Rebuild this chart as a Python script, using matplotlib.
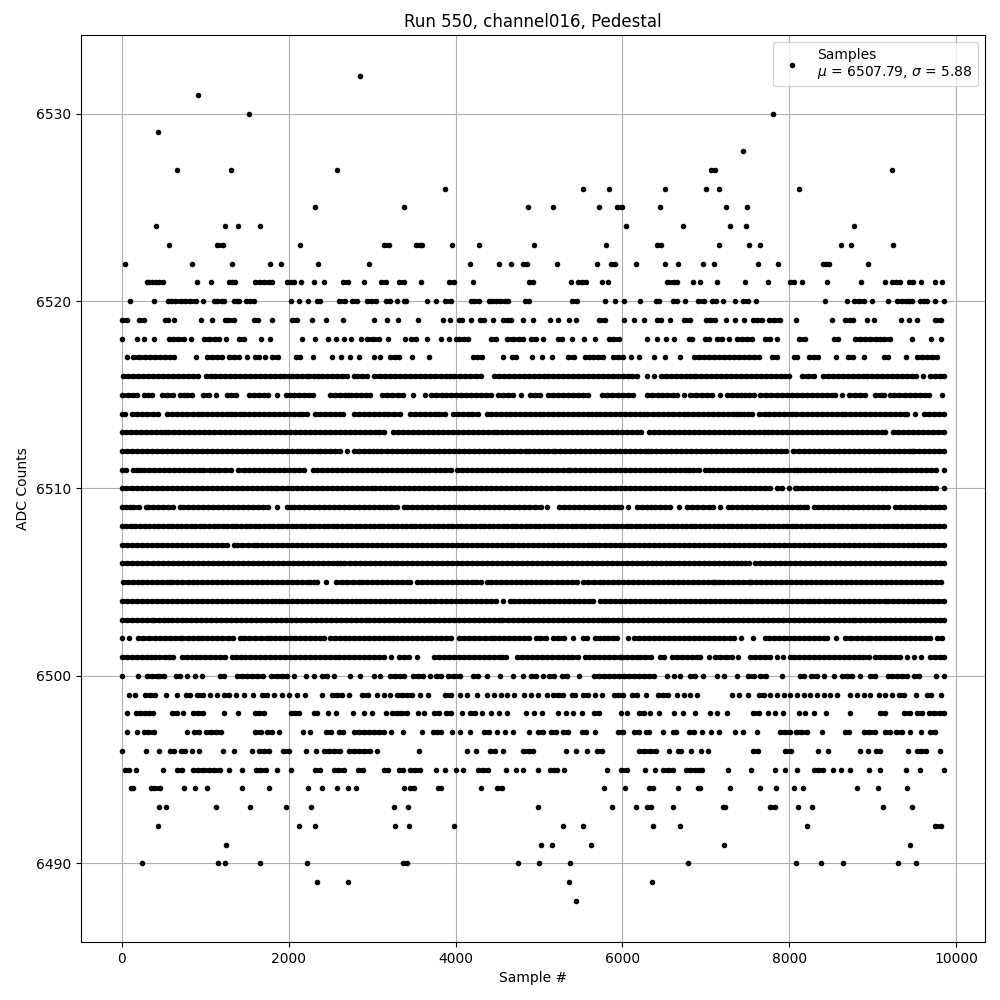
import matplotlib
matplotlib.use("Agg")
import matplotlib.pyplot as plt

# Sample positions, one list per ADC level.
a6532 = [2852]
a6531 = [920]
a6530 = [1520, 7800]
a6529 = [440]
a6528 = [7440]
a6527 = [668, 1304, 2576, 7064, 7112, 9228]
a6526 = [3872, 5532, 5844, 6516, 6996, 7152, 8112]
a6525 = [2312, 3380, 4868, 5172, 5724, 5940, 5992, 6456, 7236, 7488]
a6524 = [416, 1232, 1388, 1652, 6048, 6720, 7284, 7476, 8772]
a6523 = [572, 1136, 1208, 2132, 3140, 3204, 3524, 3572, 3604, 3956, 4280, 4940, 5808, 6420, 6460, 7152, 7512, 7644, 8616, 8736, 9240]
a6522 = [44, 848, 1316, 1772, 1904, 2348, 2960, 4172, 4520, 4664, 4808, 4860, 5220, 5700, 5868, 5916, 6168, 6516, 6660, 6960, 7092, 7620, 7860, 8400, 8444, 8480, 8940]
a6521 = [300, 332, 360, 412, 452, 492, 908, 1064, 1280, 1320, 1360, 1600, 1652, 1704, 1768, 1804, 1980, 2028, 2068, 2144, 2300, 2420, 2648, 2708, 2900, 3112, 3172, 3328, 3388, 3584, 3920, 3980, 4208, 4880, 4932, 5388, 5472, 5520, 5560, 5752, 5832, 6540, 6612, 6652, 6840, 6924, 7128, 7464, 7740, 8004, 8056, 8148, 8448, 8856, 9144, 9232, 9280, 9324, 9432, 9484, 9576, 9744, 9828]
a6520 = [104, 392, 552, 588, 644, 712, 756, 824, 888, 980, 1104, 1140, 1196, 1220, 1340, 1380, 1400, 1488, 1532, 1580, 2024, 2124, 2228, 2340, 2380, 2608, 2672, 2756, 2816, 2936, 2984, 3044, 3164, 3212, 3296, 3380, 3412, 3656, 3768, 3868, 3940, 4180, 4220, 4280, 4400, 4440, 4480, 4536, 4592, 4632, 4832, 4880, 5400, 5460, 5796, 5916, 6024, 6216, 6408, 6440, 6600, 6656, 6744, 6904, 6972, 7068, 7120, 7200, 7344, 7440, 7504, 7596, 8424, 8688, 8772, 8832, 8896, 8988, 9180, 9292, 9352, 9392, 9432, 9472, 9564, 9612, 9652, 9748, 9852]
a6519 = [4, 60, 212, 272, 520, 556, 632, 956, 1076, 1236, 1276, 1340, 1580, 1628, 1796, 2036, 2096, 2276, 2444, 2648, 3020, 3176, 3308, 3548, 3848, 3932, 4040, 4080, 4184, 4292, 4340, 4448, 4568, 4632, 4668, 4808, 4928, 5136, 5232, 5364, 5448, 5724, 5796, 6024, 6140, 6264, 6420, 6460, 6576, 6732, 6804, 7000, 7052, 7104, 7236, 7344, 7452, 7560, 7612, 7668, 7752, 7812, 7884, 8076, 8508, 8664, 8724, 8764, 8928, 9012, 9336, 9432, 9532, 9748, 9816]
a6518 = [8, 188, 272, 392, 572, 612, 680, 752, 836, 992, 1040, 1112, 1164, 1244, 1400, 1460, 1664, 1772, 2156, 2312, 2472, 2564, 2660, 2744, 2864, 2940, 3008, 3080, 3188, 3392, 3472, 3532, 3656, 3824, 3920, 4000, 4040, 4100, 4148, 4420, 4480, 4620, 4692, 4760, 4812, 4908, 4960, 5052, 5232, 5272, 5400, 5544, 5672, 5844, 5892, 5964, 6300, 6420, 6528, 6612, 6792, 6836, 6992, 7032, 7132, 7192, 7280, 7372, 7432, 7492, 7552, 7712, 7764, 7848, 8112, 8184, 8532, 8580, 8792, 8844, 8912, 8972, 9044, 9092, 9140, 9204, 9468, 9700, 9816]
a6517 = [60, 140, 212, 280, 340, 400, 460, 520, 580, 628, 892, 1020, 1080, 1140, 1200, 1280, 1340, 1400, 1500, 1592, 1640, 1720, 1800, 1868, 2088, 2140, 2288, 2524, 2628, 2740, 2840, 3020, 3100, 3220, 3280, 3320, 3476, 3688, 4212, 4260, 4320, 4568, 4672, 4720, 4912, 5036, 5160, 5352, 5424, 5552, 5604, 5652, 5712, 5772, 5892, 5952, 6012, 6100, 6204, 6384, 6516, 6684, 6852, 6912, 6972, 7032, 7092, 7152, 7212, 7272, 7332, 7392, 7452, 7512, 7572, 7632, 7792, 7852, 8052, 8092, 8232, 8292, 8340, 8556, 8704, 8764, 8892, 9132, 9180, 9400, 9524, 9592, 9652, 9712, 9772]
a6516 = [20, 80, 140, 200, 260, 320, 380, 440, 500, 560, 620, 680, 740, 800, 860, 920, 1012, 1064, 1120, 1180, 1240, 1300, 1360, 1420, 1480, 1540, 1600, 1660, 1720, 1780, 1840, 1900, 1950, 2000, 2040, 2100, 2160, 2220, 2240, 2300, 2350, 2400, 2460, 2520, 2580, 2640, 2700, 2780, 2820, 2880, 2940, 3020, 3090, 3160, 3220, 3280, 3340, 3400, 3460, 3520, 3580, 3640, 3700, 3760, 3820, 3880, 3930, 3980, 4052, 4110, 4170, 4240, 4300, 4460, 4520, 4580, 4640, 4700, 4760, 4820, 4880, 4940, 5000, 5060, 5112, 5172, 5230, 5290, 5352, 5412, 5470, 5530, 5590, 5650, 5710, 5770, 5830, 5890, 5950, 6010, 6070, 6120, 6172, 6300, 6380, 6460, 6520, 6580, 6640, 6700, 6760, 6810, 6852, 6880, 6940, 7000, 7060, 7120, 7180, 7240, 7300, 7360, 7420, 7480, 7540, 7600, 7660, 7720, 7780, 7840, 7900, 7950, 7992, 8152, 8220, 8292, 8404, 8460, 8520, 8580, 8640, 8700, 8760, 8820, 8880, 8932, 8992, 9050, 9110, 9170, 9230, 9290, 9350, 9410, 9470, 9512, 9600, 9684, 9740, 9800, 9852]
a6515 = [8, 80, 130, 188, 268, 320, 368, 480, 545, 612, 700, 745, 788, 840, 980, 1040, 1128, 1260, 1315, 1372, 1520, 1580, 1640, 1700, 1748, 1860, 1964, 2012, 2060, 2120, 2180, 2240, 2292, 2500, 2560, 2620, 2670, 2708, 2748, 2810, 2870, 2930, 2972, 3120, 3180, 3240, 3310, 3372, 3488, 3632, 3708, 3770, 3840, 3880, 3940, 4000, 4060, 4120, 4180, 4240, 4300, 4370, 4428, 4508, 4570, 4630, 4692, 4780, 4892, 4950, 5012, 5112, 5170, 5230, 5290, 5350, 5410, 5470, 5530, 5592, 5760, 5820, 5880, 5950, 6010, 6070, 6132, 6292, 6360, 6432, 6480, 6540, 6600, 6652, 6732, 6812, 6880, 6950, 7010, 7072, 7168, 7252, 7310, 7370, 7420, 7472, 7520, 7572, 7652, 7720, 7780, 7850, 7912, 7972, 8030, 8090, 8150, 8210, 8270, 8330, 8390, 8450, 8510, 8552, 8632, 8720, 8792, 8850, 8912, 9032, 9100, 9132, 9212, 9260, 9320, 9380, 9440, 9500, 9560, 9620, 9672, 9832]
a6514 = [0, 40, 120, 180, 240, 300, 370, 440, 540, 600, 660, 720, 780, 850, 920, 960, 1020, 1080, 1140, 1200, 1260, 1310, 1360, 1412, 1470, 1530, 1590, 1650, 1710, 1770, 1830, 1890, 1950, 2010, 2070, 2120, 2160, 2220, 2320, 2380, 2440, 2500, 2560, 2610, 2652, 2780, 2840, 2900, 2960, 3020, 3080, 3140, 3188, 3260, 3332, 3460, 3520, 3580, 3640, 3700, 3750, 3800, 3872, 3968, 4030, 4090, 4150, 4200, 4268, 4372, 4430, 4490, 4550, 4600, 4652, 4710, 4770, 4830, 4890, 4950, 5010, 5052, 5110, 5170, 5230, 5290, 5350, 5410, 5470, 5530, 5590, 5640, 5684, 5732, 5790, 5850, 5910, 5970, 6030, 6090, 6150, 6210, 6260, 6300, 6372, 6430, 6490, 6550, 6610, 6680, 6740, 6780, 6840, 6900, 6960, 7020, 7080, 7140, 7200, 7260, 7320, 7370, 7412, 7452, 7510, 7552, 7632, 7704, 7760, 7820, 7880, 7940, 7990, 8032, 8080, 8152, 8210, 8270, 8332, 8392, 8450, 8510, 8570, 8632, 8672, 8730, 8790, 8850, 8910, 8970, 9030, 9090, 9150, 9210, 9270, 9330, 9380, 9412, 9504, 9612, 9670, 9730, 9790, 9852]
a6513 = [0, 50, 110, 170, 230, 290, 350, 410, 470, 520, 560, 628, 690, 750, 810, 870, 930, 990, 1050, 1110, 1172, 1240, 1300, 1360, 1420, 1480, 1540, 1600, 1660, 1720, 1780, 1840, 1900, 1960, 2020, 2080, 2140, 2200, 2260, 2320, 2380, 2440, 2500, 2560, 2620, 2680, 2740, 2800, 2860, 2920, 2980, 3040, 3080, 3140, 3252, 3310, 3370, 3430, 3490, 3550, 3612, 3672, 3730, 3790, 3850, 3910, 3970, 4030, 4090, 4150, 4210, 4270, 4330, 4390, 4460, 4500, 4560, 4620, 4680, 4740, 4800, 4860, 4920, 4980, 5040, 5100, 5160, 5220, 5280, 5340, 5400, 5460, 5520, 5580, 5640, 5700, 5760, 5820, 5880, 5940, 6000, 6060, 6120, 6172, 6228, 6320, 6380, 6440, 6500, 6560, 6620, 6680, 6740, 6800, 6860, 6920, 6980, 7040, 7100, 7160, 7220, 7280, 7340, 7400, 7460, 7520, 7580, 7640, 7700, 7750, 7792, 7852, 7910, 7970, 8030, 8090, 8150, 8210, 8270, 8330, 8390, 8450, 8510, 8570, 8630, 8690, 8750, 8810, 8870, 8930, 8990, 9050, 9110, 9152, 9240, 9300, 9360, 9420, 9480, 9540, 9600, 9660, 9720, 9780, 9852]
a6512 = [0, 60, 120, 180, 240, 300, 360, 420, 480, 540, 600, 660, 720, 780, 840, 900, 960, 1020, 1080, 1140, 1200, 1260, 1320, 1380, 1440, 1500, 1560, 1620, 1680, 1740, 1800, 1860, 1920, 1980, 2040, 2100, 2140, 2180, 2228, 2285, 2340, 2380, 2440, 2500, 2560, 2620, 2700, 2780, 2840, 2900, 2960, 3010, 3060, 3112, 3180, 3240, 3300, 3360, 3420, 3480, 3530, 3580, 3620, 3680, 3740, 3800, 3860, 3920, 3980, 4040, 4100, 4160, 4220, 4280, 4340, 4400, 4460, 4520, 4580, 4640, 4700, 4770, 4840, 4880, 4940, 5000, 5060, 5110, 5164, 5192, 5250, 5310, 5370, 5430, 5490, 5550, 5610, 5670, 5730, 5790, 5850, 5910, 5970, 6030, 6090, 6150, 6210, 6270, 6312, 6344, 6400, 6460, 6520, 6580, 6640, 6700, 6760, 6820, 6880, 6940, 7000, 7060, 7120, 7180, 7240, 7300, 7360, 7420, 7480, 7540, 7600, 7660, 7720, 7780, 7840, 7900, 7960, 8044, 8112, 8170, 8230, 8290, 8350, 8410, 8470, 8530, 8590, 8650, 8710, 8770, 8830, 8890, 8950, 9010, 9070, 9130, 9190, 9250, 9310, 9370, 9430, 9472, 9492, 9550, 9610, 9670, 9730, 9790, 9852]
a6511 = [0, 50, 130, 180, 220, 268, 330, 390, 450, 510, 570, 630, 690, 750, 810, 870, 930, 980, 1052, 1110, 1170, 1240, 1308, 1388, 1460, 1520, 1580, 1640, 1700, 1760, 1820, 1880, 1940, 2000, 2060, 2130, 2188, 2288, 2340, 2400, 2460, 2520, 2580, 2640, 2700, 2760, 2820, 2880, 2940, 3000, 3060, 3120, 3180, 3240, 3300, 3360, 3420, 3480, 3540, 3590, 3640, 3680, 3750, 3810, 3870, 3940, 4020, 4080, 4140, 4200, 4260, 4320, 4380, 4440, 4500, 4560, 4620, 4680, 4740, 4800, 4860, 4920, 4980, 5040, 5100, 5160, 5220, 5290, 5352, 5372, 5430, 5490, 5550, 5610, 5670, 5730, 5790, 5850, 5910, 5970, 6030, 6090, 6150, 6210, 6270, 6330, 6390, 6450, 6510, 6570, 6630, 6690, 6750, 6800, 6844, 6912, 6992, 7032, 7090, 7150, 7210, 7270, 7330, 7390, 7450, 7510, 7570, 7630, 7690, 7750, 7810, 7870, 7930, 7990, 8050, 8092, 8132, 8190, 8250, 8310, 8370, 8430, 8490, 8550, 8610, 8670, 8730, 8790, 8850, 8910, 8970, 9030, 9072, 9112, 9172, 9232, 9284, 9340, 9400, 9460, 9520, 9580, 9640, 9700, 9760, 9852]
a6510 = [0, 50, 120, 180, 240, 300, 360, 420, 480, 540, 600, 660, 720, 780, 840, 900, 960, 1020, 1080, 1140, 1200, 1260, 1320, 1380, 1440, 1500, 1560, 1620, 1680, 1740, 1790, 1840, 1860, 1920, 1980, 2040, 2100, 2160, 2220, 2280, 2340, 2400, 2460, 2520, 2580, 2640, 2700, 2760, 2820, 2880, 2940, 3000, 3040, 3100, 3160, 3212, 3260, 3320, 3380, 3440, 3500, 3560, 3620, 3680, 3740, 3800, 3860, 3920, 3980, 4040, 4072, 4130, 4190, 4250, 4310, 4370, 4430, 4490, 4550, 4610, 4670, 4730, 4790, 4850, 4910, 4970, 5030, 5090, 5150, 5212, 5252, 5310, 5370, 5430, 5490, 5550, 5610, 5670, 5730, 5790, 5850, 5910, 5970, 6030, 6090, 6150, 6210, 6270, 6330, 6390, 6450, 6510, 6570, 6630, 6690, 6750, 6810, 6870, 6930, 6990, 7050, 7110, 7170, 7230, 7290, 7350, 7410, 7470, 7530, 7590, 7650, 7710, 7770, 7852, 7912, 7990, 8072, 8092, 8150, 8210, 8270, 8330, 8390, 8450, 8510, 8570, 8630, 8690, 8750, 8810, 8870, 8930, 8990, 9050, 9112, 9164, 9220, 9280, 9340, 9400, 9460, 9520, 9580, 9640, 9700, 9760, 9852]
a6509 = [0, 50, 100, 140, 210, 292, 320, 380, 440, 500, 560, 620, 700, 732, 790, 850, 910, 970, 1030, 1090, 1150, 1210, 1270, 1330, 1390, 1450, 1510, 1570, 1630, 1692, 1752, 1860, 1980, 2030, 2068, 2120, 2180, 2240, 2300, 2360, 2420, 2480, 2540, 2600, 2660, 2720, 2780, 2840, 2900, 2960, 3020, 3080, 3130, 3180, 3228, 3300, 3388, 3420, 3480, 3540, 3600, 3660, 3720, 3790, 3860, 3920, 3980, 4040, 4100, 4160, 4220, 4280, 4340, 4400, 4460, 4520, 4580, 4640, 4700, 4760, 4820, 4880, 4950, 5020, 5100, 5244, 5300, 5360, 5420, 5480, 5540, 5600, 5660, 5720, 5780, 5840, 5900, 5950, 5980, 6064, 6172, 6232, 6290, 6340, 6392, 6450, 6510, 6572, 6672, 6772, 6830, 6890, 6960, 7032, 7084, 7170, 7260, 7312, 7370, 7430, 7490, 7550, 7610, 7670, 7730, 7790, 7850, 7910, 7970, 8030, 8090, 8130, 8172, 8212, 8292, 8340, 8400, 8460, 8520, 8580, 8640, 8700, 8760, 8820, 8880, 8940, 9000, 9060, 9120, 9180, 9272, 9330, 9390, 9450, 9510, 9570, 9630, 9692, 9740, 9790, 9852]
a6508 = [0, 55, 110, 165, 220, 275, 330, 385, 440, 495, 550, 605, 660, 715, 770, 825, 880, 935, 990, 1045, 1100, 1155, 1210, 1265, 1320, 1375, 1430, 1485, 1540, 1595, 1650, 1705, 1760, 1815, 1870, 1925, 1980, 2035, 2090, 2145, 2200, 2255, 2310, 2365, 2420, 2475, 2530, 2585, 2640, 2695, 2750, 2805, 2860, 2915, 2970, 3025, 3080, 3135, 3190, 3245, 3300, 3355, 3410, 3465, 3520, 3575, 3630, 3685, 3740, 3795, 3850, 3905, 3960, 4015, 4070, 4125, 4180, 4235, 4290, 4345, 4400, 4455, 4510, 4565, 4620, 4675, 4730, 4785, 4840, 4895, 4950, 5005, 5060, 5115, 5170, 5225, 5280, 5335, 5390, 5445, 5500, 5555, 5610, 5665, 5720, 5775, 5830, 5885, 5940, 5995, 6050, 6105, 6160, 6215, 6270, 6325, 6380, 6435, 6490, 6545, 6600, 6655, 6710, 6765, 6820, 6875, 6930, 6985, 7040, 7095, 7150, 7205, 7260, 7315, 7370, 7425, 7480, 7535, 7590, 7645, 7700, 7755, 7810, 7865, 7920, 7975, 8030, 8085, 8140, 8195, 8250, 8305, 8360, 8415, 8470, 8525, 8580, 8635, 8690, 8745, 8800, 8855, 8910, 8965, 9020, 9075, 9130, 9185, 9240, 9295, 9350, 9405, 9460, 9515, 9570, 9625, 9680, 9735, 9790, 9852]
a6507 = [0, 60, 120, 180, 240, 300, 360, 420, 480, 540, 600, 660, 720, 780, 840, 900, 960, 1020, 1080, 1140, 1200, 1260, 1340, 1380, 1440, 1510, 1580, 1620, 1680, 1740, 1800, 1860, 1920, 1980, 2040, 2100, 2160, 2220, 2280, 2340, 2400, 2460, 2520, 2580, 2640, 2700, 2760, 2820, 2880, 2940, 3000, 3060, 3120, 3180, 3240, 3300, 3360, 3420, 3480, 3540, 3600, 3660, 3720, 3780, 3840, 3900, 3960, 4020, 4080, 4140, 4200, 4260, 4320, 4380, 4440, 4500, 4560, 4620, 4660, 4692, 4750, 4810, 4870, 4930, 4990, 5050, 5110, 5170, 5230, 5290, 5350, 5410, 5470, 5530, 5590, 5640, 5672, 5724, 5790, 5850, 5910, 5972, 6024, 6080, 6140, 6200, 6260, 6320, 6380, 6440, 6500, 6560, 6620, 6680, 6740, 6800, 6860, 6920, 6980, 7040, 7100, 7160, 7220, 7280, 7340, 7400, 7460, 7520, 7580, 7640, 7700, 7760, 7820, 7880, 7940, 8000, 8060, 8120, 8180, 8240, 8300, 8360, 8420, 8480, 8540, 8600, 8660, 8720, 8780, 8840, 8900, 8960, 9020, 9060, 9092, 9124, 9180, 9240, 9300, 9360, 9420, 9480, 9540, 9600, 9660, 9720, 9780, 9852]
a6506 = [0, 60, 120, 180, 240, 308, 370, 430, 490, 550, 610, 670, 730, 790, 850, 910, 970, 1030, 1090, 1150, 1210, 1270, 1330, 1390, 1450, 1510, 1570, 1630, 1690, 1750, 1810, 1870, 1930, 1990, 2050, 2110, 2170, 2230, 2290, 2350, 2410, 2470, 2530, 2580, 2620, 2668, 2730, 2790, 2850, 2910, 2970, 3030, 3090, 3150, 3210, 3260, 3300, 3360, 3420, 3480, 3540, 3600, 3660, 3720, 3780, 3840, 3900, 3960, 4020, 4080, 4140, 4200, 4260, 4320, 4380, 4440, 4500, 4560, 4620, 4680, 4740, 4800, 4860, 4920, 4980, 5040, 5100, 5160, 5220, 5280, 5340, 5400, 5460, 5520, 5580, 5640, 5700, 5760, 5820, 5880, 5940, 6000, 6060, 6120, 6180, 6240, 6300, 6350, 6404, 6460, 6520, 6572, 6620, 6680, 6740, 6800, 6860, 6920, 6980, 7040, 7100, 7160, 7220, 7280, 7330, 7372, 7420, 7470, 7512, 7592, 7650, 7710, 7770, 7830, 7892, 7952, 8010, 8070, 8130, 8190, 8250, 8310, 8370, 8430, 8490, 8550, 8610, 8670, 8730, 8790, 8850, 8910, 8970, 9030, 9090, 9150, 9210, 9270, 9330, 9390, 9450, 9510, 9570, 9630, 9690, 9750, 9800, 9852]
a6505 = [20, 80, 140, 190, 240, 300, 360, 420, 480, 540, 580, 600, 660, 720, 790, 852, 900, 960, 1020, 1080, 1140, 1200, 1260, 1320, 1380, 1440, 1500, 1560, 1620, 1680, 1740, 1800, 1860, 1920, 1980, 2040, 2100, 2160, 2220, 2260, 2300, 2340, 2448, 2572, 2640, 2700, 2770, 2840, 2880, 2940, 3000, 3060, 3120, 3180, 3240, 3300, 3360, 3420, 3460, 3540, 3600, 3660, 3720, 3780, 3840, 3900, 3960, 4020, 4080, 4140, 4200, 4240, 4300, 4380, 4428, 4490, 4550, 4610, 4670, 4730, 4790, 4850, 4910, 4970, 5030, 5090, 5150, 5210, 5270, 5330, 5390, 5450, 5524, 5592, 5660, 5732, 5772, 5830, 5890, 5950, 6010, 6070, 6130, 6190, 6250, 6310, 6370, 6430, 6490, 6550, 6610, 6670, 6730, 6790, 6850, 6910, 6970, 7030, 7080, 7112, 7152, 7210, 7270, 7330, 7390, 7450, 7512, 7540, 7600, 7660, 7720, 7780, 7840, 7900, 7960, 8020, 8080, 8140, 8200, 8260, 8320, 8380, 8440, 8500, 8560, 8620, 8680, 8740, 8800, 8860, 8920, 8980, 9040, 9100, 9160, 9220, 9280, 9340, 9400, 9460, 9520, 9580, 9640, 9700, 9760, 9820]
a6504 = [0, 60, 120, 180, 240, 300, 360, 420, 480, 540, 600, 660, 720, 780, 840, 900, 960, 1020, 1080, 1140, 1200, 1260, 1320, 1380, 1440, 1500, 1560, 1620, 1680, 1740, 1800, 1840, 1880, 1920, 1980, 2040, 2100, 2160, 2220, 2280, 2340, 2400, 2460, 2520, 2580, 2640, 2700, 2760, 2810, 2860, 2920, 2980, 3040, 3100, 3160, 3220, 3280, 3340, 3400, 3460, 3520, 3580, 3640, 3700, 3760, 3820, 3880, 3940, 4000, 4060, 4120, 4180, 4240, 4300, 4360, 4420, 4480, 4572, 4652, 4700, 4760, 4820, 4880, 4940, 5000, 5060, 5120, 5180, 5240, 5300, 5360, 5420, 5480, 5540, 5600, 5652, 5732, 5790, 5850, 5910, 5970, 6030, 6090, 6150, 6210, 6270, 6330, 6390, 6450, 6510, 6570, 6630, 6690, 6750, 6810, 6870, 6930, 6990, 7050, 7110, 7170, 7230, 7290, 7350, 7410, 7470, 7512, 7552, 7610, 7670, 7730, 7790, 7850, 7910, 7970, 8030, 8090, 8150, 8210, 8252, 8292, 8360, 8432, 8480, 8540, 8600, 8660, 8720, 8780, 8840, 8900, 8960, 9020, 9080, 9152, 9180, 9240, 9300, 9360, 9420, 9480, 9540, 9600, 9660, 9720, 9780, 9852]
a6503 = [0, 60, 120, 180, 240, 300, 360, 388, 450, 510, 560, 608, 660, 720, 772, 830, 890, 950, 1010, 1070, 1130, 1190, 1250, 1310, 1370, 1430, 1490, 1550, 1610, 1670, 1730, 1790, 1850, 1910, 1970, 2030, 2090, 2150, 2210, 2270, 2330, 2390, 2450, 2510, 2570, 2630, 2690, 2750, 2810, 2870, 2932, 2960, 3020, 3080, 3140, 3200, 3260, 3320, 3380, 3440, 3500, 3560, 3620, 3680, 3740, 3800, 3860, 3920, 3980, 4040, 4100, 4160, 4220, 4280, 4340, 4400, 4460, 4520, 4560, 4628, 4690, 4750, 4810, 4870, 4930, 4990, 5050, 5110, 5170, 5230, 5290, 5350, 5410, 5470, 5530, 5590, 5650, 5710, 5760, 5792, 5832, 5890, 5950, 6010, 6070, 6130, 6190, 6250, 6310, 6370, 6430, 6490, 6550, 6610, 6670, 6730, 6790, 6850, 6910, 6970, 7030, 7090, 7150, 7210, 7270, 7330, 7390, 7450, 7510, 7570, 7630, 7690, 7750, 7810, 7870, 7930, 7990, 8050, 8110, 8170, 8230, 8290, 8350, 8410, 8470, 8530, 8590, 8650, 8710, 8760, 8792, 8852, 8910, 8970, 9030, 9090, 9150, 9210, 9270, 9330, 9390, 9450, 9510, 9570, 9630, 9690, 9750, 9800, 9852]
a6502 = [0, 92, 200, 260, 330, 400, 460, 520, 580, 640, 700, 720, 790, 860, 920, 960, 1020, 1080, 1140, 1200, 1270, 1332, 1412, 1470, 1530, 1600, 1670, 1740, 1780, 1840, 1900, 1960, 2020, 2080, 2140, 2200, 2260, 2320, 2380, 2420, 2500, 2560, 2620, 2680, 2720, 2780, 2840, 2900, 2960, 3020, 3080, 3140, 3200, 3252, 3300, 3360, 3420, 3480, 3540, 3600, 3660, 3708, 3770, 3830, 3890, 3950, 4040, 4100, 4160, 4220, 4280, 4350, 4420, 4460, 4520, 4580, 4640, 4700, 4760, 4820, 4880, 4960, 5012, 5080, 5172, 5232, 5300, 5404, 5524, 5580, 5672, 5730, 5780, 5832, 5884, 5940, 6064, 6140, 6200, 6260, 6320, 6380, 6440, 6500, 6560, 6620, 6680, 6740, 6800, 6860, 6920, 6980, 7040, 7100, 7160, 7220, 7292, 7340, 7420, 7560, 7704, 7760, 7820, 7880, 7940, 8000, 8060, 8120, 8180, 8240, 8300, 8360, 8410, 8452, 8564, 8672, 8740, 8812, 8870, 8930, 8972, 9044, 9092, 9150, 9210, 9270, 9330, 9390, 9450, 9510, 9570, 9630, 9690, 9764, 9832]
a6501 = [0, 60, 120, 180, 240, 300, 350, 400, 452, 520, 570, 620, 720, 780, 840, 888, 940, 1000, 1060, 1120, 1180, 1240, 1320, 1372, 1428, 1480, 1540, 1600, 1660, 1720, 1780, 1840, 1900, 1960, 2020, 2080, 2140, 2200, 2260, 2320, 2380, 2440, 2500, 2550, 2600, 2660, 2720, 2780, 2840, 2900, 2960, 3020, 3080, 3140, 3224, 3320, 3380, 3440, 3540, 3740, 3800, 3860, 3920, 3980, 4040, 4100, 4160, 4220, 4280, 4340, 4400, 4460, 4520, 4560, 4608, 4740, 4800, 4860, 4920, 4980, 5040, 5100, 5160, 5230, 5292, 5344, 5400, 5470, 5552, 5604, 5660, 5720, 5780, 5840, 5900, 5972, 5992, 6050, 6110, 6170, 6212, 6272, 6340, 6452, 6504, 6592, 6650, 6710, 6770, 6830, 6890, 6932, 7032, 7112, 7170, 7240, 7312, 7388, 7532, 7590, 7650, 7712, 7764, 7848, 7924, 8004, 8060, 8120, 8180, 8240, 8300, 8360, 8420, 8480, 8540, 8600, 8660, 8720, 8780, 8832, 8880, 8952, 9032, 9090, 9150, 9210, 9270, 9330, 9412, 9492, 9580, 9684, 9740, 9800, 9852]
a6500 = [8, 200, 308, 360, 420, 452, 512, 652, 700, 788, 876, 960, 1172, 1220, 1380, 1440, 1500, 1560, 1620, 1688, 1788, 1860, 1920, 1980, 2068, 2212, 2300, 2400, 2460, 2540, 2732, 2852, 3020, 3100, 3212, 3280, 3340, 3388, 3492, 3548, 3612, 3692, 3772, 3828, 3912, 3980, 4052, 4208, 4268, 4380, 4528, 4688, 4812, 4900, 4960, 5044, 5124, 5184, 5272, 5340, 5484, 5660, 5720, 5780, 5840, 5900, 5960, 6020, 6080, 6140, 6200, 6260, 6320, 6380, 6532, 6612, 6692, 6804, 6868, 6960, 7132, 7212, 7372, 7500, 7572, 7652, 7724, 7912, 8124, 8172, 8260, 8332, 8412, 8532, 8632, 8692, 8752, 8852, 8972, 9024, 9180, 9232, 9292, 9352, 9412, 9492, 9552, 9752, 9852]
a6499 = [84, 160, 280, 340, 400, 532, 660, 772, 820, 908, 980, 1060, 1140, 1220, 1280, 1372, 1460, 1576, 1680, 1740, 1820, 1920, 2000, 2100, 2200, 2400, 2520, 2580, 2640, 2720, 2880, 2952, 3060, 3140, 3220, 3300, 3360, 3420, 3480, 3580, 3668, 3868, 3940, 4052, 4140, 4260, 4380, 4460, 4540, 4620, 4700, 4820, 4900, 4988, 5092, 5172, 5232, 5292, 5392, 5432, 5532, 5592, 5672, 5752, 5900, 5952, 6012, 6112, 6180, 6280, 6432, 6492, 6552, 6652, 6732, 6812, 6892, 7312, 7392, 7500, 7632, 7692, 7772, 7852, 7932, 8012, 8092, 8172, 8252, 8332, 8412, 8492, 8572, 8732, 8812, 8892, 8972, 9072, 9152, 9232, 9312, 9372, 9512, 9652, 9692, 9812]
a6498 = [68, 168, 220, 280, 332, 380, 608, 660, 740, 860, 920, 980, 1220, 1388, 1592, 1640, 1708, 2028, 2080, 2128, 2300, 2340, 2468, 2564, 2768, 2904, 3000, 3164, 3240, 3300, 3348, 3416, 3548, 3628, 3740, 3800, 3880, 3940, 4080, 4172, 4228, 4320, 4420, 4520, 4616, 4840, 4940, 5036, 5232, 5324, 5412, 5520, 5660, 5724, 5980, 6060, 6204, 6260, 6336, 6436, 6612, 6728, 6864, 7044, 7132, 7248, 7560, 7632, 7740, 7824, 7924, 8112, 8192, 8292, 8436, 8724, 9092, 9152, 9372, 9444, 9532, 9592, 9672, 9732, 9804, 9852]
a6497 = [68, 188, 272, 320, 392, 788, 872, 932, 1012, 1068, 1132, 1192, 1592, 1664, 1740, 1800, 1880, 2172, 2252, 2444, 2508, 2600, 2652, 2780, 2840, 2900, 2960, 3020, 3080, 3140, 3232, 3368, 3596, 3728, 3780, 3828, 3956, 4052, 4172, 4340, 4400, 4500, 4588, 4684, 4880, 4992, 5044, 5144, 5204, 5292, 5348, 5512, 5560, 5676, 5952, 6012, 6144, 6204, 6280, 6324, 6492, 6600, 6644, 6792, 6852, 6948, 7056, 7152, 7352, 7440, 7608, 7884, 7944, 8004, 8084, 8140, 8208, 8388, 8672, 8712, 8892, 8952, 9024, 9152, 9204, 9280, 9352, 9444, 9576, 9684, 9740]
a6496 = [0, 296, 452, 580, 628, 712, 760, 848, 932, 1208, 1340, 1556, 1640, 1700, 1760, 1928, 2000, 2212, 2324, 2428, 2480, 2540, 2612, 2720, 2780, 2840, 2900, 2972, 3056, 3560, 4136, 4244, 4412, 4472, 4568, 4812, 4880, 4932, 5324, 5448, 5580, 5700, 5760, 6204, 6260, 6332, 6404, 6564, 6660, 6704, 6816, 6936, 7020, 7560, 7620, 7952, 8020, 8340, 8460, 8844, 8940, 9036, 9092, 9420, 9524, 9572, 9632, 9804]
a6495 = [44, 92, 176, 500, 668, 728, 860, 920, 980, 1040, 1100, 1172, 1280, 1436, 1604, 1652, 1724, 1856, 2024, 2312, 2380, 2540, 2588, 2660, 2828, 2888, 3140, 3188, 3320, 3372, 3452, 3520, 3580, 3764, 3872, 4000, 4088, 4268, 4328, 4388, 4604, 4724, 4812, 4992, 5132, 5180, 5220, 5304, 5820, 5988, 6052, 6276, 6396, 6492, 6548, 6604, 6756, 6812, 6872, 6912, 6952, 7260, 7536, 7824, 7944, 8088, 8292, 8340, 8400, 8520, 8616, 8724, 8952, 9084, 9396, 9564, 9852]
a6494 = [116, 140, 348, 392, 464, 752, 884, 1028, 1436, 1760, 2228, 2396, 2576, 2708, 2804, 3380, 3460, 3500, 3788, 3820, 4304, 4492, 4552, 5784, 6036, 6324, 6364, 6660, 6900, 6932, 7284, 7644, 7836, 8052, 8160, 8808, 9068, 9408]
a6493 = [452, 536, 1124, 1532, 1964, 2264, 3260, 3428, 4988, 5880, 6168, 6300, 6348, 6600, 7200, 7232, 7764, 7824, 8100, 8268, 9120, 9468]
a6492 = [440, 2120, 2312, 3272, 3440, 3980, 5292, 5532, 6372, 6684, 8208, 9744, 9816]
a6491 = [1244, 5028, 5160, 5628, 7212, 9444]
a6490 = [248, 1148, 1232, 1652, 2216, 3368, 3416, 4748, 5004, 5376, 6780, 8076, 8376, 8640, 9300, 9516]
a6489 = [2336, 2708, 5364, 6360]
a6488 = [5448]

levels = [6532, 6531, 6530, 6529, 6528, 6527, 6526, 6525, 6524, 6523, 6522, 6521, 6520, 6519, 6518, 6517,
          6516, 6515, 6514, 6513, 6512, 6511, 6510, 6509, 6508, 6507, 6506, 6505, 6504, 6503, 6502, 6501,
          6500, 6499, 6498, 6497, 6496, 6495, 6494, 6493, 6492, 6491, 6490, 6489, 6488]
rows = [a6532, a6531, a6530, a6529, a6528, a6527, a6526, a6525, a6524, a6523, a6522, a6521, a6520, a6519, a6518, a6517,
        a6516, a6515, a6514, a6513, a6512, a6511, a6510, a6509, a6508, a6507, a6506, a6505, a6504, a6503, a6502, a6501,
        a6500, a6499, a6498, a6497, a6496, a6495, a6494, a6493, a6492, a6491, a6490, a6489, a6488]

samples = [x for row in rows for x in row]
adc = [lev for lev, row in zip(levels, rows) for _ in row]

fig, ax = plt.subplots(figsize=(10, 10), dpi=100)
ax.plot(samples, adc, "k.", label="Samples\n$\\mu$ = 6507.79, $\\sigma$ = 5.88")

# In the picture neighbouring samples of a run overlap into a solid band; join
# the listed neighbours so the runs read the same way.
for lev, row in zip(levels, rows):
    for x0, x1 in zip(row, row[1:]):
        if x1 - x0 <= 72:
            ax.plot([x0, x1], [lev, lev], color="k", lw=3.4, solid_capstyle="butt")

ax.set_title("Run 550, channel016, Pedestal")
ax.set_xlabel("Sample #")
ax.set_ylabel("ADC Counts")
ax.grid(True)
ax.legend(loc="upper right")
fig.subplots_adjust(left=0.0806, right=0.985, top=0.965, bottom=0.058)
fig.savefig("out.png", dpi=100)
